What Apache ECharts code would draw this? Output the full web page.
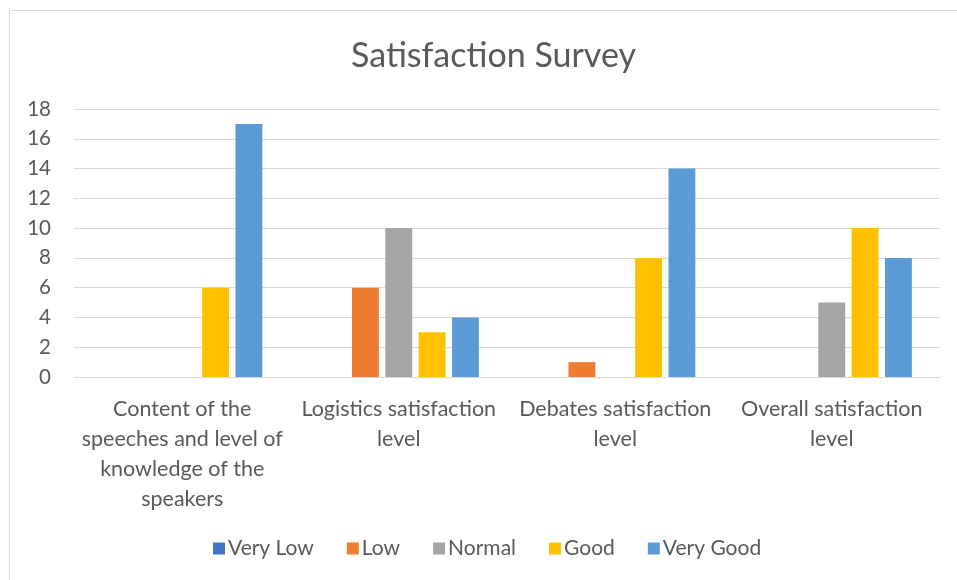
<!DOCTYPE html>
<html>
<head>
<meta charset="utf-8">
<script src="https://cdn.jsdelivr.net/npm/echarts@6/dist/echarts.min.js"></script>
<style>html,body{margin:0;padding:0;background:#fff}#c{width:957px;height:580px}</style>
</head>
<body>
<div id="c"></div>
<script>
const categories = [
  "Content of the\nspeeches and level of\nknowledge of the\nspeakers",
  "Logistics satisfaction\nlevel",
  "Debates satisfaction\nlevel",
  "Overall satisfaction\nlevel"
];
const seriesNames = ["Very Low", "Low", "Normal", "Good", "Very Good"];
const veryLow = [0, 0, 0, 0];
const low = [0, 6, 1, 0];
const normal = [0, 10, 0, 5];
const good = [6, 3, 8, 10];
const veryGood = [17, 4, 14, 8];
const colors = ["#4472C4", "#ED7D31", "#A5A5A5", "#FFC000", "#5B9BD5"];
const values = [veryLow, low, normal, good, veryGood];

const font = "Lato, 'Open Sans', sans-serif";
const chart = echarts.init(document.getElementById('c'), null, {renderer: 'canvas'});
chart.setOption({
  animation: false,
  textStyle: {fontFamily: font},
  graphic: [{
    type: 'rect', shape: {x: 9.5, y: 10.5, width: 1000, height: 1000},
    style: {fill: 'none', stroke: '#d9d9d9', lineWidth: 1}, silent: true, z: -1
  }],
  title: {
    text: 'Satisfaction Survey', left: 346, top: 34,
    textStyle: {fontFamily: font, fontSize: 34, fontWeight: 'normal', color: '#595959'}
  },
  legend: {
    data: seriesNames, bottom: 16, left: 208, itemWidth: 12, itemHeight: 12,
    itemGap: 33, icon: 'rect',
    textStyle: {fontFamily: font, fontSize: 21, color: '#595959', padding: [0, 0, 0, -2]}
  },
  grid: {left: 74, right: 17, top: 109, bottom: 203, containLabel: false},
  xAxis: {
    type: 'category', data: categories,
    axisLine: {lineStyle: {color: '#d9d9d9', width: 1}},
    axisTick: {show: false},
    axisLabel: {fontFamily: font, fontSize: 21.5, color: '#595959', lineHeight: 30, margin: 17, interval: 0, align: 'center'}
  },
  yAxis: {
    type: 'value', min: 0, max: 18, interval: 2,
    axisLine: {show: false}, axisTick: {show: false},
    splitLine: {lineStyle: {color: '#d9d9d9', width: 1}},
    axisLabel: {fontFamily: font, fontSize: 20.5, color: '#595959', margin: 23}
  },
  series: seriesNames.map((n, i) => ({
    name: n, type: 'bar', data: values[i],
    barGap: '24%', barCategoryGap: '26%',
    itemStyle: {color: colors[i]}
  }))
});
</script>
</body>
</html>
